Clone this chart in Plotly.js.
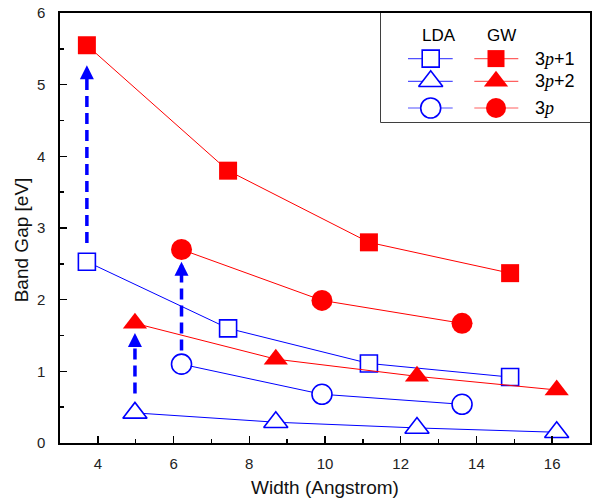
<!DOCTYPE html>
<html>
<head>
<meta charset="utf-8">
<script src="https://cdn.plot.ly/plotly-3.0.1.min.js"></script>
<style>html,body{margin:0;padding:0;background:#fff;}#chart{width:593px;height:499px;}</style>
</head>
<body>
<div id="chart"></div>
<script>
// Widths (Angstrom) per ribbon family
const width3p1 = [3.71, 7.44, 11.16, 14.89];
const width3p2 = [4.98, 8.70, 12.43, 16.12];
const width3p  = [6.21, 9.92, 13.62];

// Band gaps [eV]
const lda3p1 = [2.53, 1.60, 1.11, 0.92];
const gw3p1  = [5.55, 3.80, 2.80, 2.37];
const lda3p2 = [0.42, 0.29, 0.21, 0.15];
const gw3p2  = [1.67, 1.17, 0.93, 0.74];
const lda3p  = [1.10, 0.68, 0.54];
const gw3p   = [2.70, 1.99, 1.67];

// Correction arrows (LDA -> GW)
const arrowX    = [3.71, 4.98, 6.21];
const arrowFrom = [2.79, 0.69, 1.29];
const arrowTo   = [5.27, 1.535, 2.53];

// Tick labels
const xTicks = [4, 6, 8, 10, 12, 14, 16];
const yTicks = [0, 1, 2, 3, 4, 5, 6];

// Legend
const familyLabels = ['3<span style="font-family:\'Liberation Serif\';font-style:italic">p</span>+1',
                      '3<span style="font-family:\'Liberation Serif\';font-style:italic">p</span>+2',
                      '3<span style="font-family:\'Liberation Serif\';font-style:italic">p</span>'];
const methodLabels = ['LDA', 'GW'];

const BLUE = '#0000ff', RED = '#ff0000';
const FONT = 'Liberation Sans, Arial, sans-serif';

function series(x, y, color, symbol, size, open) {
  return {
    x: x, y: y, type: 'scatter', mode: 'lines+markers', showlegend: false, hoverinfo: 'skip',
    line: {color: color, width: 1},
    marker: {symbol: symbol, size: size, color: open ? '#ffffff' : color,
             line: {color: color, width: open ? 1.6 : 0}}
  };
}

const traces = [
  series(width3p1, lda3p1, BLUE, 'square', 17, true),
  series(width3p2, lda3p2, BLUE, 'triangle-up', 21, true),
  series(width3p,  lda3p,  BLUE, 'circle', 20, true),
  series(width3p1, gw3p1, RED, 'square', 18, false),
  series(width3p2, gw3p2, RED, 'triangle-up', 21, false),
  series(width3p,  gw3p,  RED, 'circle', 21, false)
];

const headLen = 0.17;
const annotations = [];
arrowX.forEach((x, i) => {
  traces.push({
    x: [x, x], y: [arrowFrom[i], arrowTo[i] - headLen], type: 'scatter', mode: 'lines',
    showlegend: false, hoverinfo: 'skip',
    line: {color: BLUE, width: 3.5, dash: '11px,6px'}
  });
  annotations.push({
    x: x, y: arrowTo[i], ax: x, ay: arrowTo[i] - headLen - 0.02,
    xref: 'x', yref: 'y', axref: 'x', ayref: 'y', text: '', showarrow: true,
    arrowhead: 2, arrowsize: 0.8, arrowwidth: 3.5, arrowcolor: BLUE, standoff: 0, startstandoff: 0
  });
});

// Legend samples drawn on a helper axis pair covering the legend box (pixel-like units)
const legRowsY = [58.3, 81, 107.7];
const legSymbols = ['square', 'triangle-up', 'circle'];
const legSizes = [17, 21, 20];
const legCols = [{x0: 408, x1: 452.7, xm: 430.7, color: BLUE, open: true},
                 {x0: 474.3, x1: 518.3, xm: 496, color: RED, open: false}];
legCols.forEach(c => {
  legRowsY.forEach((y, r) => {
    traces.push({x: [c.x0, c.x1], y: [y, y], xaxis: 'x2', yaxis: 'y2', type: 'scatter', mode: 'lines',
      showlegend: false, hoverinfo: 'skip', line: {color: c.open ? '#5050ff' : '#ff6060', width: 1.2}});
    traces.push({x: [c.xm], y: [y], xaxis: 'x2', yaxis: 'y2', type: 'scatter', mode: 'markers',
      showlegend: false, hoverinfo: 'skip',
      marker: {symbol: legSymbols[r], size: legSizes[r], color: c.open ? '#ffffff' : c.color,
               line: {color: c.color, width: c.open ? 1.6 : 0}}});
  });
});
methodLabels.forEach((t, i) => {
  annotations.push({x: legCols[i].xm + (i === 0 ? 8.6 : 5.7), y: 35, xref: 'x2', yref: 'y2', text: t, showarrow: false,
    xanchor: 'center', yanchor: 'middle', font: {family: FONT, size: 17, color: '#000'}});
});
familyLabels.forEach((t, r) => {
  annotations.push({x: 533, y: legRowsY[r], xref: 'x2', yref: 'y2', text: t, showarrow: false,
    xanchor: 'left', yanchor: 'middle', font: {family: FONT, size: 18, color: '#000'}});
});

// Y-axis title
annotations.push({x: -39 / 530, y: (442.7 - 240) / 430, xref: 'paper', yref: 'paper', text: 'Band Gap [eV]',
  textangle: -90, showarrow: false, xanchor: 'center', yanchor: 'middle',
  font: {family: FONT, size: 19, color: '#111'}});

const layout = {
  width: 593, height: 499,
  margin: {l: 60, r: 3, t: 13, b: 56},
  paper_bgcolor: '#ffffff', plot_bgcolor: '#ffffff',
  font: {family: FONT, color: '#000'},
  showlegend: false,
  xaxis: {
    range: [3, 17], tickvals: xTicks, ticktext: xTicks.map(String),
    ticks: 'inside', ticklen: 7, tickwidth: 1.5, tickcolor: '#000',
    minor: {dtick: 1, tick0: 3, ticks: 'inside', ticklen: 4, tickwidth: 1.5, tickcolor: '#000'},
    showline: true, linecolor: '#000', linewidth: 1.6, mirror: true,
    showgrid: false, zeroline: false, ticklabelstandoff: 6,
    tickfont: {family: FONT, size: 15, color: '#222'},
    title: {text: 'Width (Angstrom)', font: {family: FONT, size: 19, color: '#111'}, standoff: 10}
  },
  yaxis: {
    range: [0, 6], tickvals: yTicks, ticktext: yTicks.map(String),
    ticks: 'inside', ticklen: 7, tickwidth: 1.5, tickcolor: '#000',
    minor: {dtick: 0.5, tick0: 0, ticks: 'inside', ticklen: 4, tickwidth: 1.5, tickcolor: '#000'},
    showline: true, linecolor: '#000', linewidth: 1.6, mirror: true,
    showgrid: false, zeroline: false, ticklabelstandoff: 10,
    tickfont: {family: FONT, size: 15, color: '#222'}
  },
  xaxis2: {domain: [321/530, 1], range: [381, 590], anchor: 'y2', visible: false, fixedrange: true},
  yaxis2: {domain: [321/430, 1], range: [121.7, 12.7], anchor: 'x2', visible: false, fixedrange: true},
  shapes: [{type: 'rect', xref: 'paper', yref: 'paper', x0: 321/530, x1: 1, y0: 321/430, y1: 1,
            line: {color: '#000', width: 1.5}, fillcolor: 'rgba(0,0,0,0)', layer: 'below'}],
  annotations: annotations
};

Plotly.newPlot('chart', traces, layout, {displayModeBar: false, staticPlot: true});
</script>
</body>
</html>
